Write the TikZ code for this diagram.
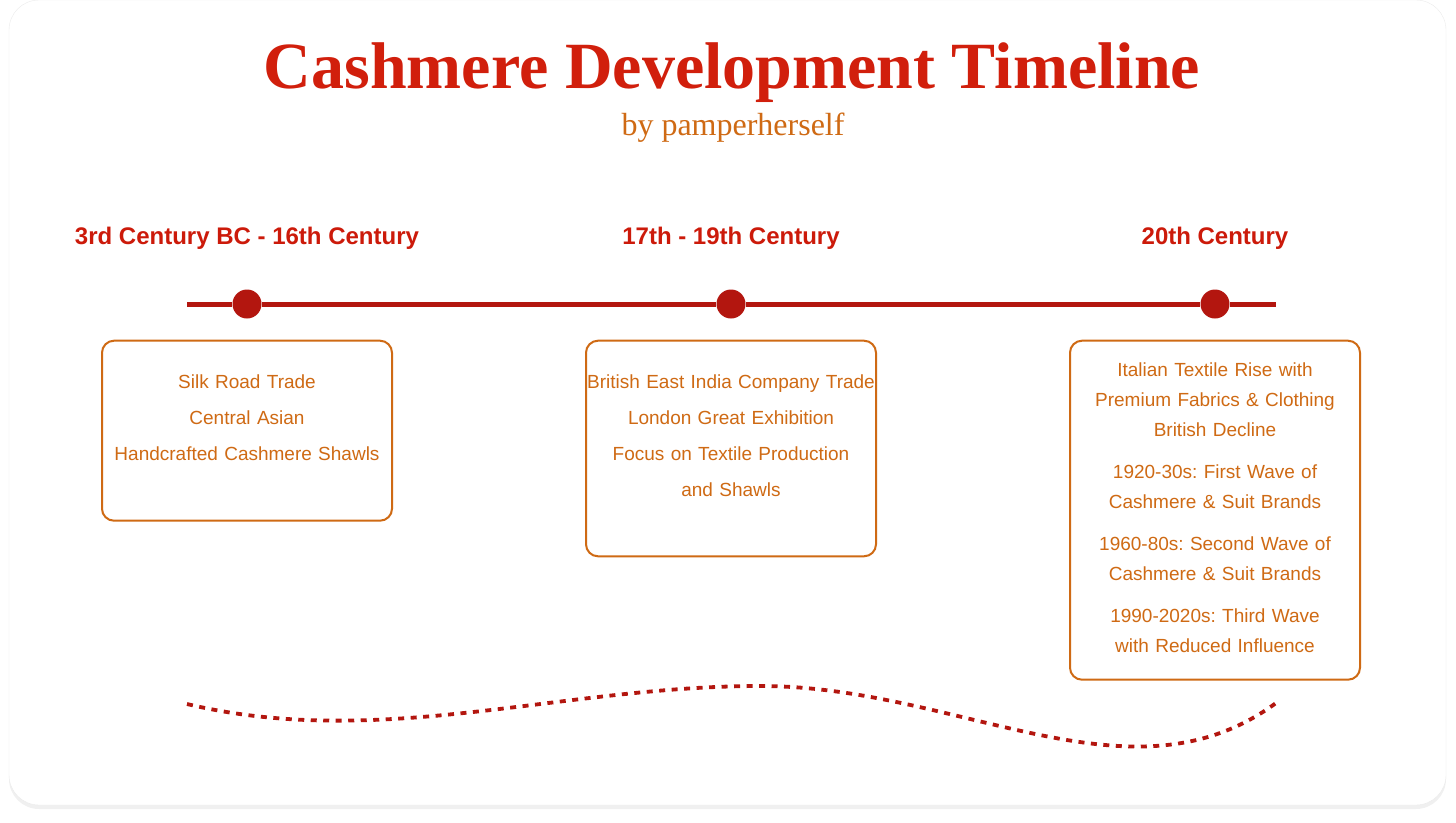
\documentclass[tikz,border=0pt]{standalone}
\usepackage{fontspec}
\setmainfont{Liberation Sans}
\newfontfamily\titlefont{Liberation Serif}
\usetikzlibrary{positioning,shadows}
\frenchspacing

\definecolor{titlered}{HTML}{D11F0C}
\definecolor{erared}{HTML}{CC1A0A}
\definecolor{linered}{HTML}{B3160F}
\definecolor{boxorange}{HTML}{CF6A14}

\tikzset{
  milestone/.style={circle, fill=linered, inner sep=0pt, minimum size=29pt},
  era/.style={font=\bfseries\fontsize{24}{28}\selectfont, text=erared, inner sep=0pt, outer sep=0pt},
  eventbox/.style={draw=boxorange, line width=2pt, rounded corners=12pt, text=boxorange,
    align=center, text width=290pt, inner xsep=0pt, inner ysep=0pt, outer sep=0pt},
}

\begin{document}
\begin{tikzpicture}[x=1pt, y=-1pt]
  \useasboundingbox (0,0) rectangle (1456,822);
  % Card
  \fill[white, draw=black!8, rounded corners=30pt,
    drop shadow={shadow xshift=0pt, shadow yshift=-4pt, opacity=0.12}] (9,0) rectangle (1446,805);
  % Title
  \node[anchor=base, font=\titlefont\bfseries\fontsize{66}{70}\selectfont, text=titlered] (title) at (732,88) {Cashmere Development Timeline};
  \node[anchor=base, font=\titlefont\fontsize{32}{36}\selectfont, text=boxorange] (subtitle) at (733,135) {by pamperherself};
  % Define nodes
  \coordinate (start) at (187,304);
  \coordinate (end) at (1276,304);
  \node[milestone] (m1) at (247,304) {};
  \node[milestone] (m2) at (731,304) {};
  \node[milestone] (m3) at (1215,304) {};
  \node[era, above=39.5pt of m1] (era1) {3rd Century BC - 16th Century};
  \node[era, above=39.5pt of m2] (era2) {17th - 19th Century};
  \node[era, above=39.5pt of m3] (era3) {20th Century};
  \node[eventbox, below=22pt of m1, text height=47.6pt, text depth=132.4pt, font=\fontsize{19}{36}\selectfont] (ev1)
    {Silk Road Trade\\Central Asian\\Handcrafted Cashmere Shawls};
  \node[eventbox, below=22pt of m2, text height=47.6pt, text depth=168pt, font=\fontsize{19}{36}\selectfont] (ev2)
    {British East India Company Trade\\London Great Exhibition\\Focus on Textile Production\\and Shawls};
  \node[eventbox, below=22pt of m3, text height=36pt, text depth=303pt, font=\fontsize{19}{30}\selectfont] (ev3)
    {Italian Textile Rise with\\Premium Fabrics \& Clothing\\British Decline\\[12pt]
     1920-30s: First Wave of\\Cashmere \& Suit Brands\\[12pt]
     1960-80s: Second Wave of\\Cashmere \& Suit Brands\\[12pt]
     1990-2020s: Third Wave\\with Reduced Influence};
  % Connect the nodes
  \draw[linered, line width=5pt] (start) -- (m1) -- (m2) -- (m3) -- (end);
  % Wave
  \draw[linered, line width=3.8pt, dash pattern=on 6pt off 6.5pt]
    (187,704) .. controls (380,750) and (560,686) .. (760,686)
    .. controls (960,686) and (1130,810) .. (1276,703);
\end{tikzpicture}
\end{document}
